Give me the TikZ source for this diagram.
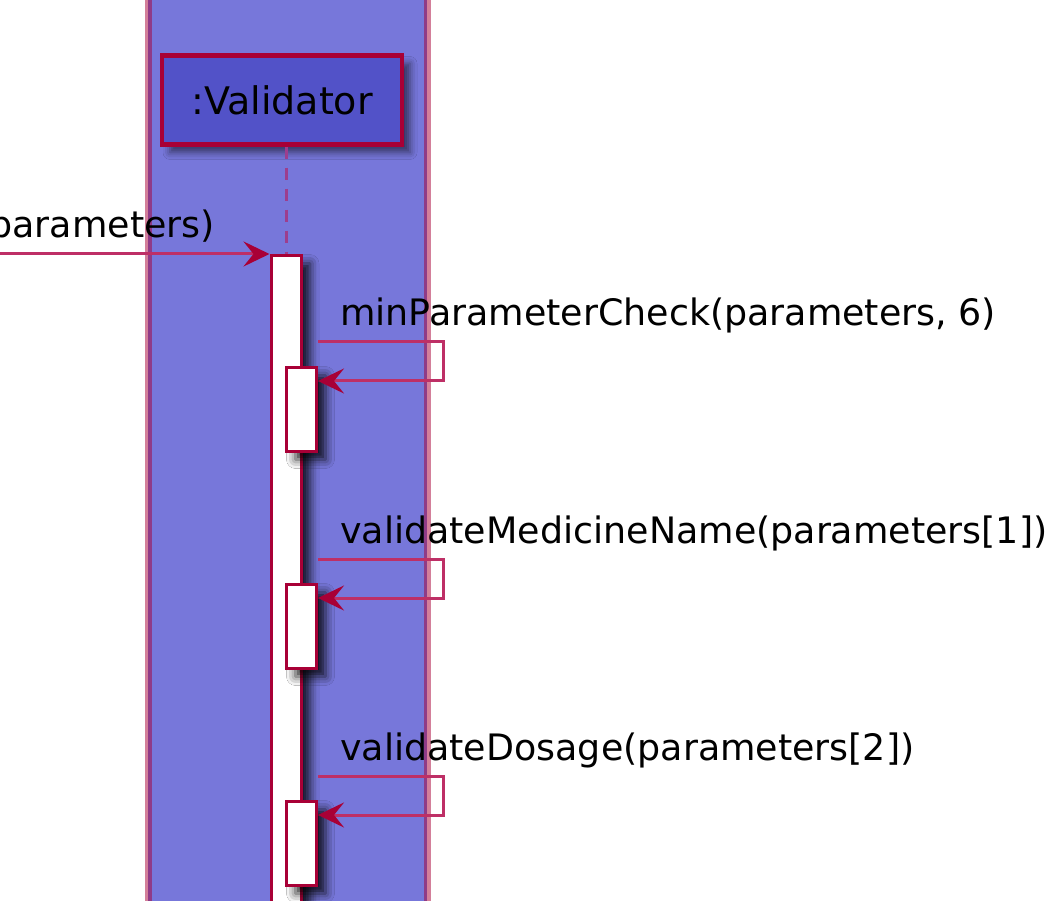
\documentclass[tikz,border=0pt]{standalone}
\usepackage{fontspec}
\setmainfont{DejaVu Sans}
\usetikzlibrary{arrows.meta,shadows.blur}

\definecolor{laneblue}{HTML}{7777DA}
\definecolor{partblue}{HTML}{5252C8}
\definecolor{umlred}{HTML}{A80036}
\definecolor{msgred}{HTML}{BE2F66}
\definecolor{lifeline}{HTML}{9C3E8E}

\tikzset{
  part/.style={draw=umlred, line width=4.5pt, fill=partblue, minimum width=240pt,
    minimum height=89pt, inner sep=0pt, font=\fontsize{38}{44}\selectfont,
    blur shadow={shadow xshift=8pt, shadow yshift=-8pt, shadow blur radius=7pt,
      shadow opacity=55}},
  actbar/.style={draw=umlred, line width=3pt, fill=white, minimum width=30pt, inner sep=0pt,
    blur shadow={shadow xshift=9pt, shadow yshift=-8pt, shadow blur radius=9pt,
      shadow opacity=85}},
  msg/.style={draw=msgred, line width=3pt, ->},
  msglabel/.style={inner sep=0pt, font=\fontsize{36.4}{42}\selectfont}
}

\begin{document}
\begin{tikzpicture}[x=1pt, y=-1pt, line join=miter,
  >={Stealth[length=26pt, width=25pt, inset=10pt, umlred]}]

  \useasboundingbox (0,0) rectangle (1053,901);

  % box round the participant
  \fill[laneblue] (148,-20) rectangle (427,930);
  \draw[umlred, draw opacity=0.5, line width=7pt] (148,-20) -- (148,930);
  \draw[umlred, draw opacity=0.5, line width=7pt] (427,-20) -- (427,930);

  \node[part] (val) at (282,100) {:Validator};

  % activations
  \node[actbar, minimum height=700pt, anchor=north] (main) at (286,254) {};
  \draw[lifeline, line width=3pt, dash pattern=on 12pt off 9pt]
    (main.north |- val.south) -- (main.north);

  \coordinate (caller) at (-10,254);
  \draw[msg] (caller) -- (main.north west);
  \node[msglabel, anchor=base east] (inlbl) at (215,238) {parameters)};

  \foreach \i/\y/\txt in {1/342/{minParameterCheck(parameters, 6)},
                          2/559/{validateMedicineName(parameters[1])},
                          3/776/{validateDosage(parameters[2])}} {
    \node[actbar, minimum height=84pt, anchor=north] (act\i) at (301.5,\y+24) {};
    \coordinate (out\i) at (act\i.east |- 0,\y);
    \coordinate (turn\i) at (443,\y+39);
    \draw[msg] (out\i) -| (turn\i) -- (act\i.east |- turn\i);
    \node[msglabel, anchor=base west] (lbl\i) at (340,\y-16) {\txt};
  }

\end{tikzpicture}
\end{document}
